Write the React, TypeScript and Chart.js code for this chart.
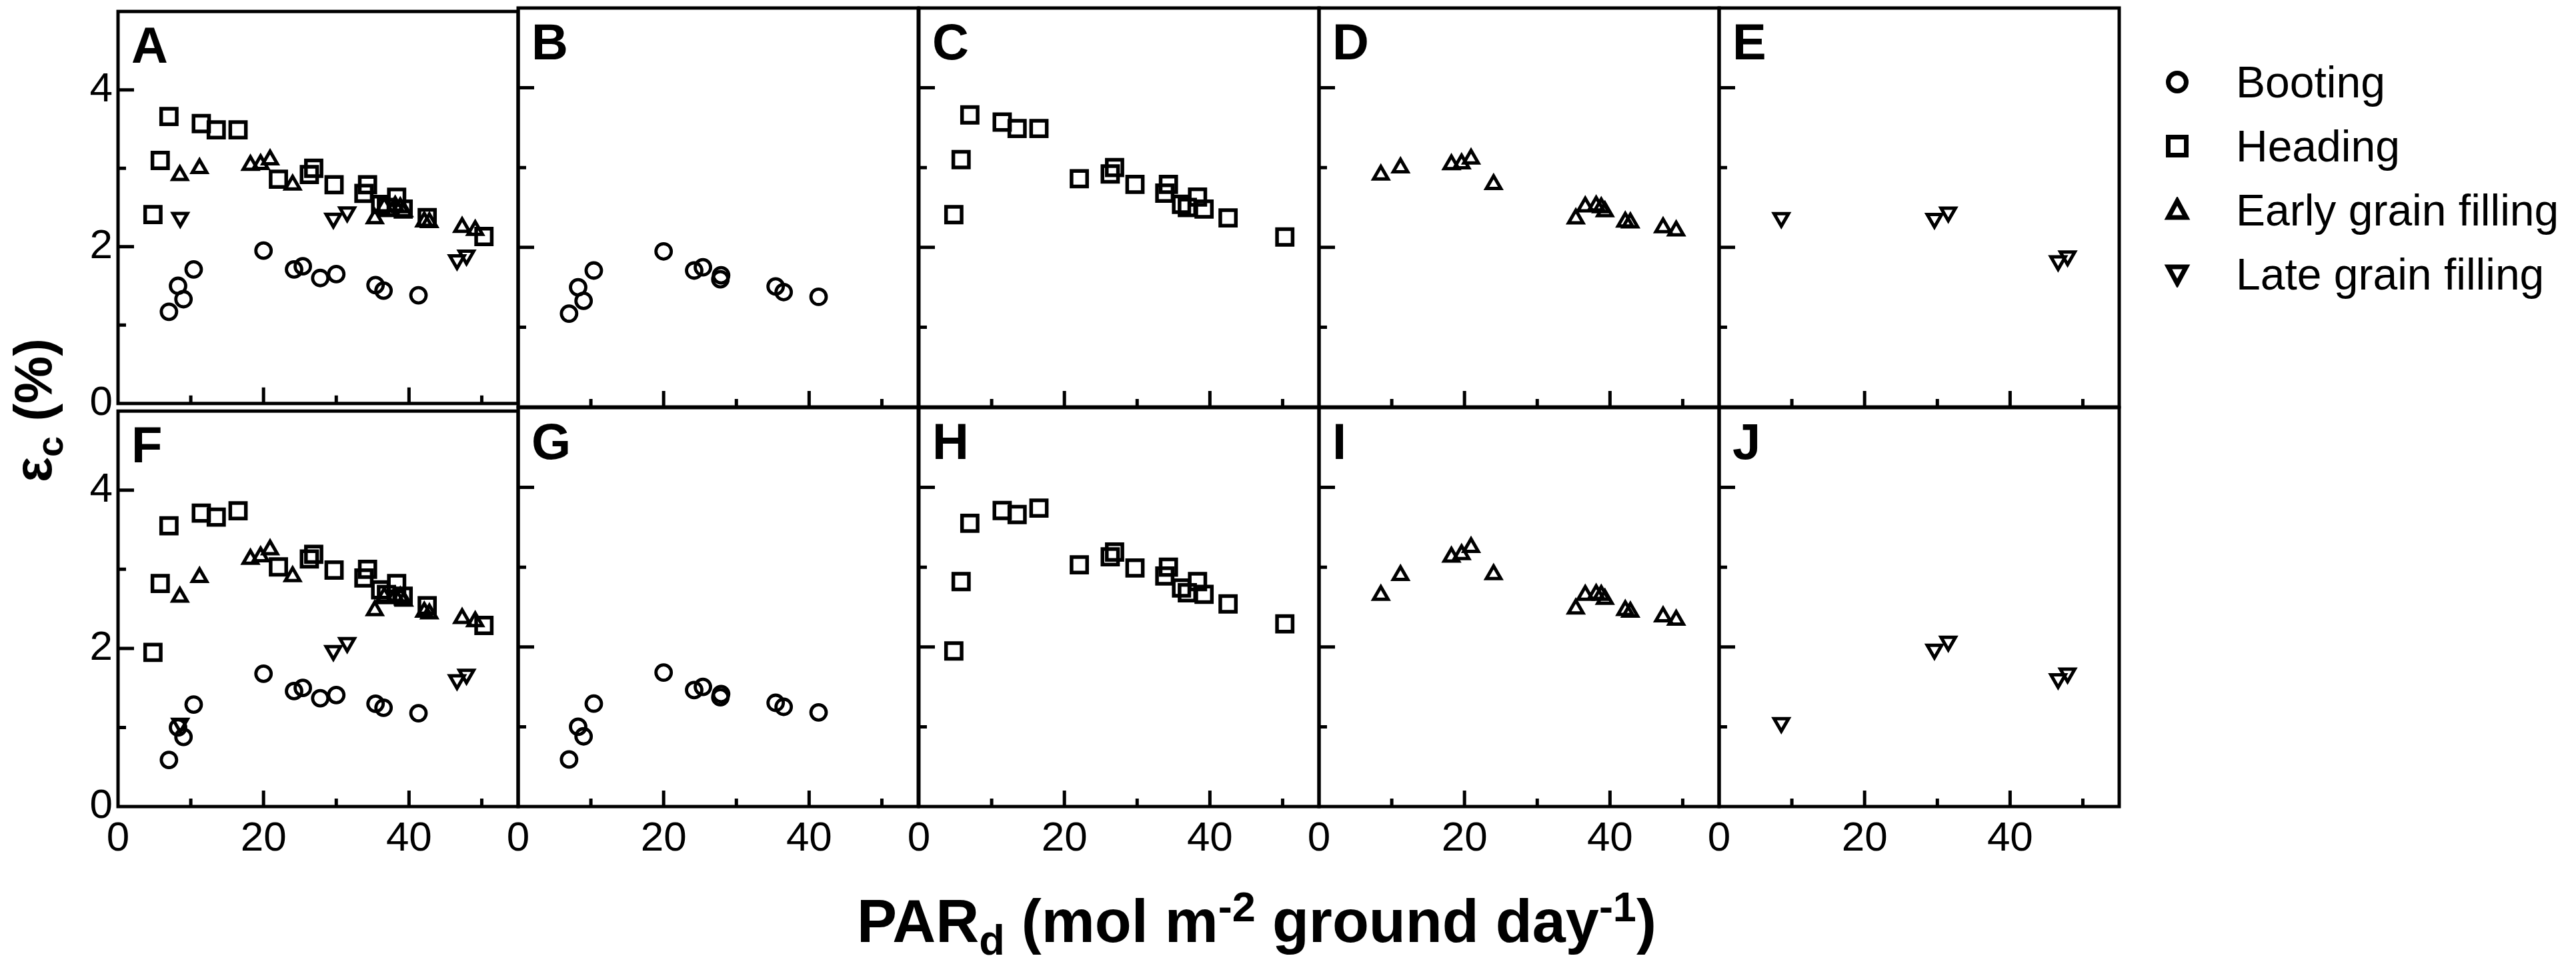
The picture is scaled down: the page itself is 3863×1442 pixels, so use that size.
import { useEffect, useRef } from "react";
import { Chart, registerables, type ChartConfiguration, type Plugin } from "chart.js";

Chart.register(...registerables);

const FONT = "'Liberation Sans', Arial, Helvetica, sans-serif";

// PAR_d (x) per stage, shared by both rows
const bootingPar = [7.0, 8.25, 9.0, 10.4, 20.0, 24.2, 25.4, 27.8, 30.0, 35.4, 36.5, 41.3];
// in the booting-only panels (B, G) the ninth point sits on top of the eighth
const bootingParSingle = [7.0, 8.25, 9.0, 10.4, 20.0, 24.2, 25.4, 27.8, 27.9, 35.4, 36.5, 41.3];
const headingPar = [4.8, 5.8, 7.0, 11.45, 13.5, 16.5, 22.05, 26.3, 26.9, 29.7, 33.8, 34.3, 36.1, 36.9, 38.3, 39.2, 42.5, 50.3];
const earlyPar = [8.5, 11.2, 18.2, 19.6, 20.9, 24.0, 35.3, 36.6, 38.1, 38.8, 39.3, 42.1, 42.8, 47.3, 49.1];
const latePar = [8.55, 29.6, 31.5, 46.6, 47.9];

// εc (%) top row (A-E)
const bootingTop = [1.17, 1.5, 1.33, 1.71, 1.95, 1.71, 1.75, 1.6, 1.65, 1.51, 1.44, 1.38];
const headingTop = [2.41, 3.1, 3.66, 3.57, 3.49, 3.49, 2.86, 2.92, 3.0, 2.79, 2.68, 2.79, 2.54, 2.5, 2.63, 2.48, 2.37, 2.13];
const earlyTop = [2.91, 3.0, 3.04, 3.05, 3.11, 2.79, 2.36, 2.51, 2.52, 2.5, 2.45, 2.32, 2.31, 2.25, 2.21];
const lateTop = [2.37, 2.36, 2.44, 1.83, 1.89];

// εc (%) bottom row (F-J)
const bootingBottom = [0.59, 1.0, 0.88, 1.29, 1.68, 1.46, 1.5, 1.37, 1.41, 1.3, 1.25, 1.18];
const headingBottom = [1.95, 2.82, 3.55, 3.71, 3.66, 3.74, 3.03, 3.13, 3.19, 2.99, 2.89, 3.0, 2.74, 2.68, 2.82, 2.66, 2.54, 2.29];
const earlyBottom = [2.65, 2.9, 3.13, 3.16, 3.25, 2.91, 2.48, 2.65, 2.66, 2.65, 2.6, 2.46, 2.44, 2.38, 2.34];
const lateBottom = [1.05, 1.97, 2.07, 1.6, 1.67];

const stageNames = ["Booting", "Heading", "Early grain filling", "Late grain filling"];
const panelLetters = [
  ["A", "B", "C", "D", "E"],
  ["F", "G", "H", "I", "J"],
];
const xTickLabels = [0, 20, 40];
const yTickLabels = [0, 2, 4];

const stagePar = [bootingPar, headingPar, earlyPar, latePar];
const stageParSingle = [bootingParSingle, headingPar, earlyPar, latePar];
const stageValues = [
  [bootingTop, headingTop, earlyTop, lateTop],
  [bootingBottom, headingBottom, earlyBottom, lateBottom],
];

const stageMarkers = [
  { pointStyle: "circle", radius: 11.5, borderWidth: 4.8, rotation: 0 },
  { pointStyle: "rect", radius: 16.5, borderWidth: 5.5, rotation: 0 },
  { pointStyle: "triangle", radius: 12.5, borderWidth: 5, rotation: 0 },
  { pointStyle: "triangle", radius: 12.5, borderWidth: 5, rotation: 180 },
];

// layout (page pixels)
const PANEL_LEFTS = [177, 777, 1378, 1978, 2578];
const ROW_TOPS = [12, 611];
const PANEL_W = 600;
const PANEL_H = 598;
const PAD = 40;
const Y_AXIS_W = 120;
const X_AXIS_H = 110;

function Panel({ row, col }: { row: number; col: number }) {
  const canvasRef = useRef<HTMLCanvasElement | null>(null);

  useEffect(() => {
    if (!canvasRef.current) return;
    const stages = col === 0 ? [0, 1, 2, 3] : [col - 1];
    const xs = col === 0 ? stagePar : stageParSingle;
    const letter = panelLetters[row][col];

    const datasets = stages.map((s) => ({
      label: stageNames[s],
      data: xs[s].map((x, i) => ({ x, y: stageValues[row][s][i] })),
      pointStyle: stageMarkers[s].pointStyle as any,
      pointRadius: stageMarkers[s].radius,
      pointHoverRadius: stageMarkers[s].radius,
      pointBorderWidth: stageMarkers[s].borderWidth,
      pointRotation: stageMarkers[s].rotation,
      borderColor: "#000",
      backgroundColor: "rgba(0,0,0,0)",
      showLine: false,
    }));

    const frame: Plugin<"scatter"> = {
      id: "panelFrame",
      afterDraw(chart) {
        const { ctx, chartArea, scales } = chart;
        const { left, right, top, bottom } = chartArea;
        ctx.save();
        ctx.strokeStyle = "#000";
        ctx.lineWidth = 5;
        ctx.strokeRect(left, top, right - left, bottom - top);
        ctx.beginPath();
        for (const t of scales.x.ticks) {
          if (t.value <= 0 || t.value >= 55) continue;
          const px = scales.x.getPixelForValue(t.value);
          const len = t.value % 20 === 0 ? 24 : 12;
          ctx.moveTo(px, bottom);
          ctx.lineTo(px, bottom - len);
        }
        for (const t of scales.y.ticks) {
          if (t.value <= 0 || t.value >= 5) continue;
          const py = scales.y.getPixelForValue(t.value);
          const len = t.value % 2 === 0 ? 24 : 12;
          ctx.moveTo(left, py);
          ctx.lineTo(left + len, py);
        }
        ctx.stroke();
        ctx.fillStyle = "#000";
        ctx.font = `bold 76px ${FONT}`;
        ctx.textBaseline = "alphabetic";
        ctx.textAlign = "left";
        ctx.fillText(letter, left + 20, top + 77);
        ctx.restore();
      },
    };

    const tickFont = { family: FONT, size: 62 };

    const config: ChartConfiguration<"scatter"> = {
      type: "scatter",
      data: { datasets },
      options: {
        responsive: true,
        maintainAspectRatio: false,
        animation: false,
        layout: {
          padding: {
            left: col === 0 ? 0 : PAD,
            right: PAD,
            top: PAD,
            bottom: row === 1 ? 0 : PAD,
          },
        },
        plugins: {
          legend: { display: false },
          tooltip: { enabled: false },
        },
        scales: {
          x: {
            type: "linear",
            min: 0,
            max: 55,
            display: row === 1,
            ticks: {
              stepSize: 10,
              includeBounds: false,
              autoSkip: false,
              maxRotation: 0,
              padding: 12,
              color: "#000",
              font: tickFont,
              callback: (v) => (xTickLabels.includes(Number(v)) ? String(v) : ""),
            },
            grid: { display: false, drawTicks: false },
            border: { display: false },
            afterFit:
              row === 1
                ? (scale) => {
                    scale.height = X_AXIS_H;
                  }
                : undefined,
          },
          y: {
            type: "linear",
            min: 0,
            max: 5,
            display: col === 0,
            ticks: {
              stepSize: 1,
              includeBounds: false,
              autoSkip: false,
              padding: 8,
              color: "#000",
              font: tickFont,
              callback: (v) => (yTickLabels.includes(Number(v)) ? String(v) : ""),
            },
            grid: { display: false, drawTicks: false },
            border: { display: false },
            afterFit:
              col === 0
                ? (scale) => {
                    scale.width = Y_AXIS_W;
                  }
                : undefined,
          },
        },
      },
      plugins: [frame],
    };

    const chart = new Chart(canvasRef.current, config);
    return () => chart.destroy();
  }, [row, col]);

  const padL = col === 0 ? Y_AXIS_W : PAD;
  const padB = row === 1 ? X_AXIS_H : PAD;

  return (
    <div
      style={{
        position: "absolute",
        left: PANEL_LEFTS[col] - padL,
        top: ROW_TOPS[row] - PAD,
        width: PANEL_W + padL + PAD,
        height: PANEL_H + PAD + padB,
      }}
    >
      <canvas ref={canvasRef} style={{ display: "block" }} />
    </div>
  );
}

function LegendMarker({ stage }: { stage: number }) {
  const sw = 7;
  let shape: React.ReactNode = null;
  if (stage === 0) shape = <circle cx={20} cy={20} r={13.5} fill="none" stroke="#000" strokeWidth={sw} />;
  if (stage === 1) shape = <rect x={6.5} y={6.5} width={27} height={27} fill="none" stroke="#000" strokeWidth={sw} />;
  if (stage === 2) shape = <polygon points="20,6 33.5,31 6.5,31" fill="none" stroke="#000" strokeWidth={sw} />;
  if (stage === 3) shape = <polygon points="20,34 33.5,9 6.5,9" fill="none" stroke="#000" strokeWidth={sw} />;
  return (
    <svg width={40} height={40} style={{ position: "absolute", left: 3245, top: 0 }}>
      {shape}
    </svg>
  );
}

function Legend() {
  return (
    <>
      {stageNames.map((name, i) => (
        <div key={name} style={{ position: "absolute", left: 0, top: 123 + i * 96 - 20, height: 40, width: 3863 }}>
          <LegendMarker stage={i} />
          <div
            style={{
              position: "absolute",
              left: 3353,
              top: 20 - 33,
              height: 66,
              lineHeight: "66px",
              fontSize: 66,
              fontFamily: FONT,
              color: "#000",
              whiteSpace: "nowrap",
            }}
          >
            {name}
          </div>
        </div>
      ))}
    </>
  );
}

const scriptStyle = { fontSize: "0.7em", lineHeight: 0 } as const;

export default function App() {
  return (
    <div
      style={{
        position: "absolute",
        left: 0,
        top: 0,
        width: 3863,
        height: 1442,
        background: "#fff",
        overflow: "hidden",
        fontFamily: FONT,
      }}
    >
      {[0, 1].map((row) => [0, 1, 2, 3, 4].map((col) => <Panel key={`${row}-${col}`} row={row} col={col} />))}

      <div
        style={{
          position: "absolute",
          left: 50 - 250,
          top: 615 - 50,
          width: 500,
          height: 100,
          lineHeight: "100px",
          textAlign: "center",
          transform: "rotate(-90deg)",
          fontWeight: "bold",
          fontSize: 80,
          color: "#000",
          whiteSpace: "nowrap",
        }}
      >
        ε<sub style={scriptStyle}>c</sub> (%)
      </div>

      <div
        style={{
          position: "absolute",
          left: 1285,
          top: 1331,
          height: 100,
          lineHeight: "100px",
          fontWeight: "bold",
          fontSize: 90,
          color: "#000",
          whiteSpace: "nowrap",
        }}
      >
        PAR<sub style={scriptStyle}>d</sub> (mol m<sup style={scriptStyle}>-2</sup> ground day
        <sup style={scriptStyle}>-1</sup>)
      </div>

      <Legend />
    </div>
  );
}
